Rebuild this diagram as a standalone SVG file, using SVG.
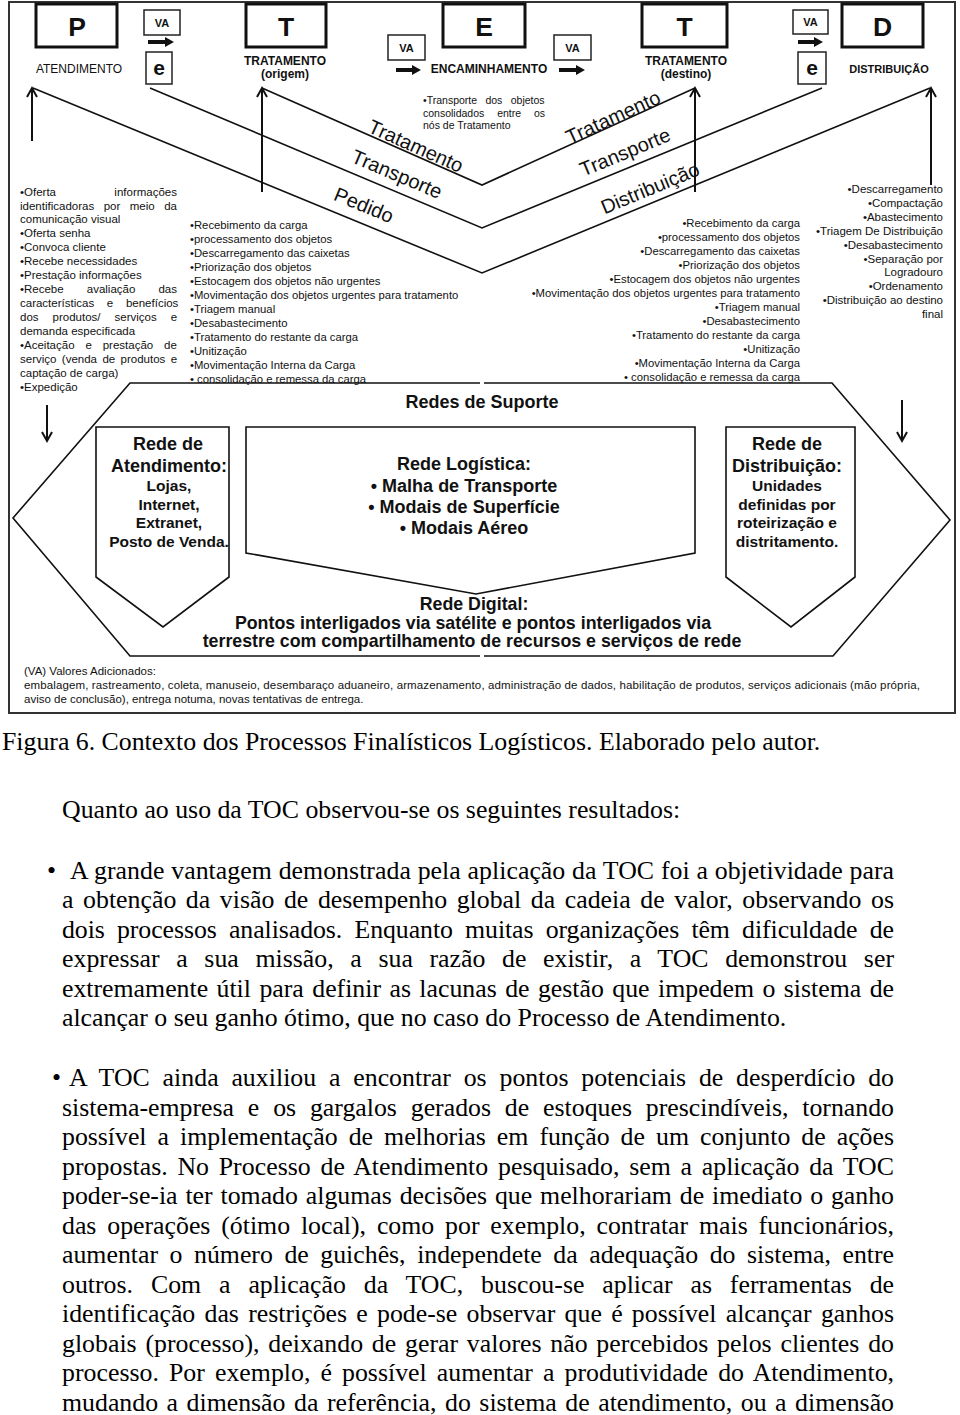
<svg xmlns="http://www.w3.org/2000/svg" width="960" height="1415" viewBox="0 0 960 1415">
<style>
.s{font-family:"Liberation Sans",Arial,sans-serif;fill:#111}
.big{font-size:26.5px;font-weight:bold;text-anchor:middle}
.hl{font-size:12px;font-weight:bold;text-anchor:middle}
.va{font-size:11px;font-weight:bold;text-anchor:middle}
.ee{font-size:21px;font-weight:bold;text-anchor:middle}
.hbox{fill:none;stroke:#111;stroke-width:3}
.sbox{fill:none;stroke:#222;stroke-width:1.5}
.ln{fill:none;stroke:#111;stroke-width:1.6}
.arr{fill:none;stroke:#111;stroke-width:2}
.fa{fill:#111}
.l1{font-size:11.5px}
.l2{font-size:11.3px}
.diag{font-size:20px;text-anchor:middle;dominant-baseline:central}
.rt{font-size:18px;font-weight:bold;text-anchor:middle}
.rd{font-size:17.8px;font-weight:bold;text-anchor:middle}
.rs{font-size:15.5px;font-weight:bold;text-anchor:middle}
.e{text-anchor:end}
.ft{font-size:11.5px}
.t{font-family:"Liberation Serif","Times New Roman",serif;font-size:25.8px;fill:#000}
</style>
<rect width="960" height="1415" fill="#fff"/>
<g id="frame"><rect x="9" y="2" width="946" height="711" fill="none" stroke="#333" stroke-width="2"/></g>

<g id="node-P"><rect class="hbox" x="36" y="4" width="81" height="43"/><text class="s big" x="77" y="36">P</text><text class="s" x="79" y="73" font-size="12" text-anchor="middle">ATENDIMENTO</text></g>
<g id="node-va1"><rect class="sbox" x="144" y="10" width="36" height="25"/><text class="s va" x="162" y="27">VA</text><polygon class="fa" points="148,40 165,40 165,37 174,42 165,47 165,44 148,44"/><rect class="sbox" x="146" y="52" width="26" height="32"/><text class="s ee" x="159" y="75">e</text></g>
<g id="node-T1"><rect class="hbox" x="246" y="4" width="80" height="43"/><text class="s big" x="286" y="36">T</text><text class="s hl" x="285" y="65">TRATAMENTO</text><text class="s hl" x="285" y="78">(origem)</text></g>
<g id="node-va2"><rect class="sbox" x="388" y="35" width="37" height="25"/><text class="s va" x="406.5" y="52">VA</text><polygon class="fa" points="396,68 412,68 412,65 421,70 412,75 412,72 396,72"/></g>
<g id="node-E"><rect class="hbox" x="443" y="4" width="82" height="43"/><text class="s big" x="484" y="36">E</text><text class="s hl" x="489" y="73">ENCAMINHAMENTO</text></g>
<g id="node-va3"><rect class="sbox" x="554" y="35" width="37" height="25"/><text class="s va" x="572.5" y="52">VA</text><polygon class="fa" points="559,68 576,68 576,65 585,70 576,75 576,72 559,72"/></g>
<g id="node-T2"><rect class="hbox" x="642" y="4" width="85" height="43"/><text class="s big" x="684.5" y="36">T</text><text class="s hl" x="686" y="65">TRATAMENTO</text><text class="s hl" x="686" y="78">(destino)</text></g>
<g id="node-va4"><rect class="sbox" x="793" y="10" width="35" height="24"/><text class="s va" x="810.5" y="26">VA</text><polygon class="fa" points="798,40 814,40 814,37 823,42 814,47 814,44 798,44"/><rect class="sbox" x="798" y="52" width="28" height="32"/><text class="s ee" x="812" y="75">e</text></g>
<g id="node-D"><rect class="hbox" x="842" y="4" width="81" height="43"/><text class="s big" x="882.5" y="36">D</text><text class="s" x="889" y="73" font-size="11" font-weight="bold" text-anchor="middle">DISTRIBUIÇÃO</text></g>

<g id="connectors">
<polyline class="ln" points="262,88 482,185 695,88"/>
<polyline class="ln" points="150,88 482,228 822,88"/>
<polyline class="ln" points="33,88 482,273 930,88"/>
<path class="arr" d="M32,141 V89 M27,97 L32,88 L37,97"/>
<path class="arr" d="M262,192 V89 M257,97 L262,88 L267,97"/>
<path class="arr" d="M695,192 V89 M690,97 L695,88 L700,97"/>
<path class="arr" d="M931,185 V89 M926,97 L931,88 L936,97"/>
<path class="arr" d="M47,405 V440 M42,432 L47,441 L52,432"/>
<path class="arr" d="M902,400 V440 M897,432 L902,441 L907,432"/>
</g>

<g id="labels-diag">
<text class="s diag" transform="translate(416,146) rotate(24)">Tratamento</text>
<text class="s diag" transform="translate(397,174) rotate(23)">Transporte</text>
<text class="s diag" transform="translate(364,205) rotate(22.5)">Pedido</text>
<text class="s diag" transform="translate(613,117) rotate(-24.5)">Tratamento</text>
<text class="s diag" transform="translate(625,152) rotate(-22.5)">Transporte</text>
<text class="s diag" transform="translate(650,188) rotate(-22.5)">Distribuição</text>
</g>

<g id="note-transporte" class="s" font-size="10.5">
<text x="423" y="104" word-spacing="5.45">•Transporte dos objetos</text>
<text x="423" y="116.5" word-spacing="9.95">consolidados entre os</text>
<text x="423" y="129">nós de Tratamento</text>
</g>

<g id="list-atendimento" class="s l1">
<text x="20" y="195.5">•Oferta</text><text class="e" x="177" y="195.5">informações</text>
<text x="20" y="209.5" word-spacing="6.3">identificadoras por meio da</text>
<text x="20" y="223.4">comunicação visual</text>
<text x="20" y="237.4">•Oferta senha</text>
<text x="20" y="251.3">•Convoca cliente</text>
<text x="20" y="265.3">•Recebe necessidades</text>
<text x="20" y="279.2">•Prestação informações</text>
<text x="20" y="293.2" word-spacing="19.9">•Recebe avaliação das</text>
<text x="20" y="307.1" word-spacing="9.5">características e benefícios</text>
<text x="20" y="321.1" word-spacing="10.8">dos produtos/ serviços e</text>
<text x="20" y="335">demanda especificada</text>
<text x="20" y="349" word-spacing="7.7">•Aceitação e prestação de</text>
<text x="20" y="362.9" word-spacing="2.2">serviço (venda de produtos e</text>
<text x="20" y="376.9">captação de carga)</text>
<text x="20" y="390.8">•Expedição</text>
</g>

<g id="list-tratamento-origem" class="s l2">
<text x="190" y="229.3">•Recebimento da carga</text>
<text x="190" y="243.2">•processamento dos objetos</text>
<text x="190" y="257.2">•Descarregamento das caixetas</text>
<text x="190" y="271.1">•Priorização dos objetos</text>
<text x="190" y="285.1">•Estocagem dos objetos não urgentes</text>
<text x="190" y="299">•Movimentação dos objetos urgentes para tratamento</text>
<text x="190" y="313">•Triagem manual</text>
<text x="190" y="326.9">•Desabastecimento</text>
<text x="190" y="340.9">•Tratamento do restante da carga</text>
<text x="190" y="354.8">•Unitização</text>
<text x="190" y="368.8">•Movimentação Interna da Carga</text>
<text x="190" y="382.7">• consolidação e remessa da carga</text>
</g>

<g id="list-tratamento-destino" class="s l2 e">
<text x="800" y="227.3">•Recebimento da carga</text>
<text x="800" y="241.2">•processamento dos objetos</text>
<text x="800" y="255.2">•Descarregamento das caixetas</text>
<text x="800" y="269.1">•Priorização dos objetos</text>
<text x="800" y="283.1">•Estocagem dos objetos não urgentes</text>
<text x="800" y="297">•Movimentação dos objetos urgentes para tratamento</text>
<text x="800" y="311">•Triagem manual</text>
<text x="800" y="324.9">•Desabastecimento</text>
<text x="800" y="338.9">•Tratamento do restante da carga</text>
<text x="800" y="352.8">•Unitização</text>
<text x="800" y="366.8">•Movimentação Interna da Carga</text>
<text x="800" y="380.7">• consolidação e remessa da carga</text>
</g>

<g id="list-distribuicao" class="s l1 e">
<text x="943" y="192.7">•Descarregamento</text>
<text x="943" y="206.7">•Compactação</text>
<text x="943" y="220.6">•Abastecimento</text>
<text x="943" y="234.6">•Triagem De Distribuição</text>
<text x="943" y="248.5">•Desabastecimento</text>
<text x="943" y="262.5">•Separação por</text>
<text x="943" y="276.4">Logradouro</text>
<text x="943" y="290.4">•Ordenamento</text>
<text x="943" y="304.3">•Distribuição ao destino</text>
<text x="943" y="318.3">final</text>
</g>

<g id="redes-suporte">
<path class="ln" d="M480,383 H130 L13,518 L130,656 H480 M484,656 H833 L950,520 L832,383 H484"/>
<text class="s rt" x="482" y="408">Redes de Suporte</text>
</g>

<g id="rede-atendimento">
<path class="ln" d="M96,427 H229 V577 L163,627 L96,577 Z"/>
<text class="s rt" x="168" y="450">Rede de</text>
<text class="s rt" x="169" y="472">Atendimento:</text>
<text class="s rs" x="169" y="491">Lojas,</text>
<text class="s rs" x="169" y="510">Internet,</text>
<text class="s rs" x="169" y="528">Extranet,</text>
<text class="s rs" x="169" y="547">Posto de Venda.</text>
</g>

<g id="rede-logistica">
<path class="ln" d="M246,427 H695 V553 L476,594 L246,553 Z"/>
<text class="s rt" x="464" y="470">Rede Logística:</text>
<text class="s rt" x="464" y="492">• Malha de Transporte</text>
<text class="s rt" x="464" y="513">• Modais de Superfície</text>
<text class="s rt" x="464" y="534">• Modais Aéreo</text>
</g>

<g id="rede-distribuicao">
<path class="ln" d="M726,427 H855 V577 L791,627 L726,577 Z"/>
<text class="s rt" x="787" y="450">Rede de</text>
<text class="s rt" x="787" y="472">Distribuição:</text>
<text class="s rs" x="787" y="491">Unidades</text>
<text class="s rs" x="787" y="510">definidas por</text>
<text class="s rs" x="787" y="528">roteirização e</text>
<text class="s rs" x="787" y="547">distritamento.</text>
</g>

<g id="rede-digital">
<text class="s rd" x="474" y="610">Rede Digital:</text>
<text class="s rd" x="473" y="628.5">Pontos interligados via satélite e pontos interligados via</text>
<text class="s rd" x="472" y="647">terrestre com compartilhamento de recursos e serviços de rede</text>
</g>

<g id="legenda" class="s ft">
<text x="24" y="675">(VA) Valores Adicionados:</text>
<text x="24" y="689" textLength="896" lengthAdjust="spacing">embalagem, rastreamento, coleta, manuseio, desembaraço aduaneiro, armazenamento, administração de dados, habilitação de produtos, serviços adicionais (mão própria,</text>
<text x="24" y="703">aviso de conclusão), entrega notuma, novas tentativas de entrega.</text>
</g>

<g id="body-text" class="t">
<text x="2" y="750">Figura 6. Contexto dos Processos Finalísticos Logísticos. Elaborado pelo autor.</text>
<text x="62" y="818">Quanto ao uso da TOC observou-se os seguintes resultados:</text>
<text x="47" y="879">•</text>
<text x="70" y="879" word-spacing="0.3" textLength="824" lengthAdjust="spacing">A grande vantagem demonstrada pela aplicação da TOC foi a objetividade para</text>
<text x="62" y="908.4" word-spacing="3.1" textLength="832" lengthAdjust="spacing">a obtenção da visão de desempenho global da cadeia de valor, observando os</text>
<text x="62" y="937.8" word-spacing="5.85" textLength="832" lengthAdjust="spacing">dois processos analisados. Enquanto muitas organizações têm dificuldade de</text>
<text x="62" y="967.2" word-spacing="10.1" textLength="832" lengthAdjust="spacing">expressar a sua missão, a sua razão de existir, a TOC demonstrou ser</text>
<text x="62" y="996.6" word-spacing="2" textLength="832" lengthAdjust="spacing">extremamente útil para definir as lacunas de gestão que impedem o sistema de</text>
<text x="62" y="1026">alcançar o seu ganho ótimo, que no caso do Processo de Atendimento.</text>
<text x="52" y="1086">•</text>
<text x="69" y="1086" word-spacing="6.3" textLength="825" lengthAdjust="spacing">A TOC ainda auxiliou a encontrar os pontos potenciais de desperdício do</text>
<text x="62" y="1115.5" word-spacing="7.4" textLength="832" lengthAdjust="spacing">sistema-empresa e os gargalos gerados de estoques prescindíveis, tornando</text>
<text x="62" y="1145" word-spacing="4.6" textLength="832" lengthAdjust="spacing">possível a implementação de melhorias em função de um conjunto de ações</text>
<text x="62" y="1174.5" word-spacing="3.2" textLength="832" lengthAdjust="spacing">propostas. No Processo de Atendimento pesquisado, sem a aplicação da TOC</text>
<text x="62" y="1204" word-spacing="1.4" textLength="832" lengthAdjust="spacing">poder-se-ia ter tomado algumas decisões que melhorariam de imediato o ganho</text>
<text x="62" y="1233.5" word-spacing="4.4" textLength="832" lengthAdjust="spacing">das operações (ótimo local), como por exemplo, contratar mais funcionários,</text>
<text x="62" y="1263" word-spacing="5.1" textLength="832" lengthAdjust="spacing">aumentar o número de guichês, independete da adequação do sistema, entre</text>
<text x="62" y="1292.5" word-spacing="11.4" textLength="832" lengthAdjust="spacing">outros. Com a aplicação da TOC, buscou-se aplicar as ferramentas de</text>
<text x="62" y="1322" word-spacing="2.8" textLength="832" lengthAdjust="spacing">identificação das restrições e pode-se observar que é possível alcançar ganhos</text>
<text x="62" y="1351.5" word-spacing="2.3" textLength="832" lengthAdjust="spacing">globais (processo), deixando de gerar valores não percebidos pelos clientes do</text>
<text x="62" y="1381" word-spacing="3.6" textLength="832" lengthAdjust="spacing">processo. Por exemplo, é possível aumentar a produtividade do Atendimento,</text>
<text x="62" y="1410.5" word-spacing="2.1" textLength="832" lengthAdjust="spacing">mudando a dimensão da referência, do sistema de atendimento, ou a dimensão</text>
</g>
</svg>
